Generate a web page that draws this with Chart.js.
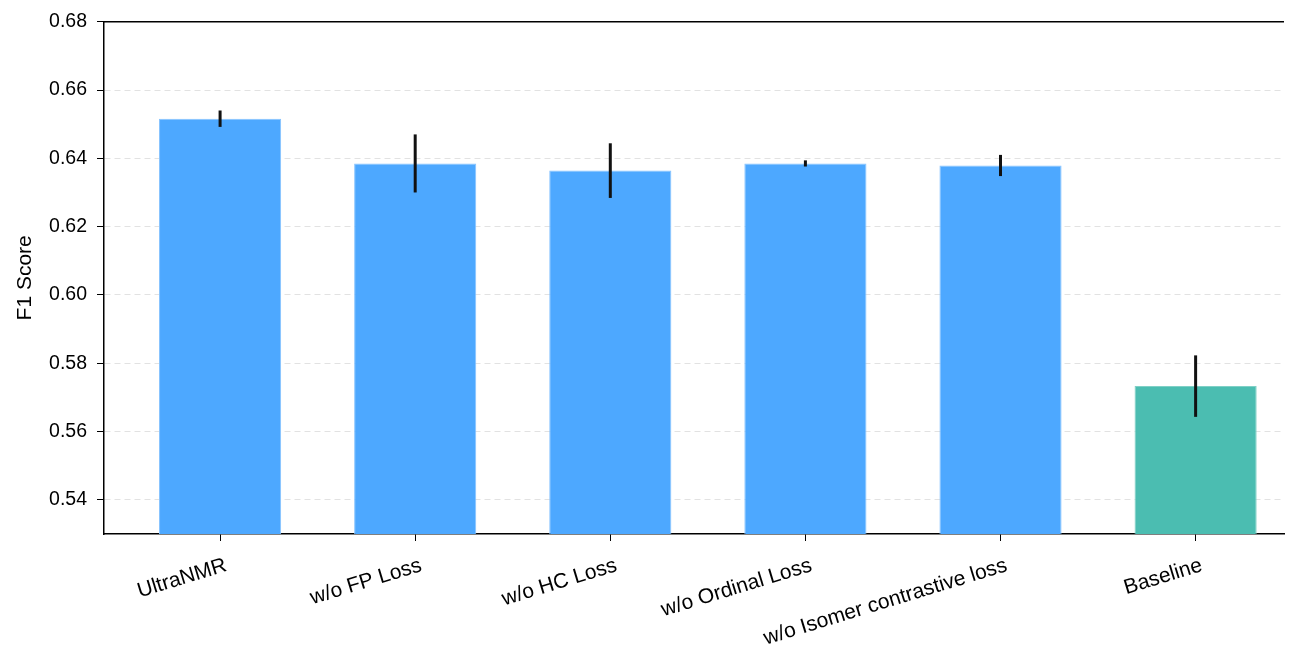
<!DOCTYPE html>
<html>
<head>
<meta charset="utf-8">
<script src="https://cdn.jsdelivr.net/npm/chart.js@4"></script>
<style>
  html, body { margin: 0; padding: 0; background: #fff; }
  #wrap { width: 1299px; height: 650px; }
</style>
</head>
<body>
<div id="wrap"><canvas id="f1Chart"></canvas></div>
<script>
var categories = ["UltraNMR", "w/o FP Loss", "w/o HC Loss", "w/o Ordinal Loss", "w/o Isomer contrastive loss", "Baseline"];
var f1Scores = [0.6516, 0.6385, 0.6364, 0.6385, 0.6379, 0.5733];
var f1Errors = [0.0024, 0.0085, 0.0080, 0.0009, 0.0031, 0.0090];
var yTicks = [0.54, 0.56, 0.58, 0.60, 0.62, 0.64, 0.66, 0.68];

var barColors = [];
var edgeColors = [];
for (let i = 0; i < categories.length; i++) {
    if (categories[i] === "Baseline") {
        barColors.push("#4BBDB1");
        edgeColors.push("#7FD0C6");
    } else {
        barColors.push("#4DA8FF");
        edgeColors.push("#86C3FF");
    }
}

// error bars, drawn through the scales
var errorBars = {
    id: 'errorBars',
    afterDatasetsDraw: function (chart) {
        let ctx = chart.ctx;
        let xs = chart.scales.x;
        let ys = chart.scales.y;
        ctx.save();
        ctx.strokeStyle = "#111";
        ctx.lineWidth = 3;
        for (let i = 0; i < f1Scores.length; i++) {
            let x = xs.getPixelForValue(i);
            ctx.beginPath();
            ctx.moveTo(x, ys.getPixelForValue(f1Scores[i] + f1Errors[i]));
            ctx.lineTo(x, ys.getPixelForValue(f1Scores[i] - f1Errors[i]));
            ctx.stroke();
        }
        ctx.restore();
    }
};

// top spine
var topSpine = {
    id: 'topSpine',
    afterDraw: function (chart) {
        let a = chart.chartArea;
        let ctx = chart.ctx;
        ctx.save();
        ctx.strokeStyle = "#000";
        ctx.lineWidth = 1.5;
        ctx.beginPath();
        ctx.moveTo(a.left, a.top);
        ctx.lineTo(a.right, a.top);
        ctx.stroke();
        ctx.restore();
    }
};

var points = [];
for (let i = 0; i < categories.length; i++) {
    points.push({x: i, y: f1Scores[i]});
}

Chart.defaults.font.family = "'Liberation Sans', Arial, sans-serif";
Chart.defaults.color = "#000";

new Chart(document.getElementById("f1Chart").getContext('2d'), {
    type: 'bar',
    data: {
        datasets: [{
            data: points,
            backgroundColor: barColors,
            borderColor: edgeColors,
            borderWidth: 1,
            categoryPercentage: 1.0,
            barPercentage: 0.626
        }]
    },
    options: {
        responsive: true,
        maintainAspectRatio: false,
        animation: false,
        layout: { padding: { top: 21, right: 15, left: 0, bottom: 0 } },
        plugins: {
            legend: { display: false },
            tooltip: { enabled: false }
        },
        scales: {
            x: {
                type: 'linear',
                min: -0.595,
                max: 5.453,
                offset: false,
                afterBuildTicks: function (scale) {
                    scale.ticks = categories.map(function (c, i) { return {value: i}; });
                },
                afterFit: function (scale) { scale.height = 116; },
                ticks: {
                    autoSkip: false,
                    minRotation: 17,
                    maxRotation: 17,
                    padding: 12,
                    labelOffset: 6,
                    font: { size: 21 },
                    callback: function (v) { return categories[v]; }
                },
                grid: {
                    offset: false,
                    drawOnChartArea: false,
                    drawTicks: true,
                    tickLength: 7,
                    tickColor: "#000",
                    tickWidth: 1
                },
                border: { display: true, color: "#000", width: 1.5 }
            },
            y: {
                min: 0.53,
                max: 0.68,
                afterBuildTicks: function (scale) {
                    scale.ticks = yTicks.map(function (v) { return {value: v}; });
                },
                afterFit: function (scale) { scale.width = 104; },
                ticks: {
                    padding: 10,
                    font: { size: 19.5 },
                    callback: function (v) { return v.toFixed(2); }
                },
                title: {
                    display: true,
                    text: "F1 Score",
                    font: { size: 21 },
                    padding: { top: 13, bottom: 0 }
                },
                grid: {
                    color: "#e2e2e2",
                    lineWidth: 1,
                    tickColor: "#000",
                    tickLength: 7,
                    tickWidth: 1
                },
                border: { display: true, color: "#000", width: 1.5, dash: [6, 4] }
            }
        }
    },
    plugins: [errorBars, topSpine]
});
</script>
</body>
</html>
